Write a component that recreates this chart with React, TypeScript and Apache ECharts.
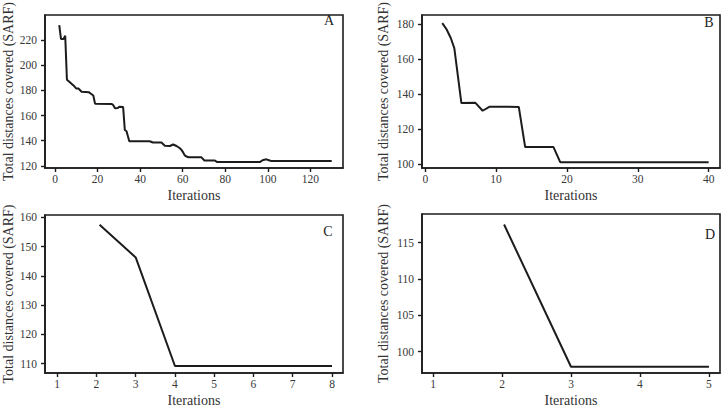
import React, { useEffect, useRef } from "react";
import * as echarts from "echarts";

// Convergence runs: [iteration, total distance covered (SARF)]
const runA: [number, number][] = [
  [2, 232], [2.8, 221], [4, 221], [4.8, 223.5], [5.6, 188.5], [7, 186.5], [8, 185], [9, 183.5],
  [10, 181.5], [11, 181.5], [12.5, 179], [16, 178.5], [17.2, 177], [18, 176], [18.8, 169.5],
  [26.5, 169.3], [27.3, 168.5], [28.2, 165.8], [29.5, 166], [30.2, 167], [32, 166.8], [32.8, 148.5],
  [33.6, 147.5], [34.9, 139.6], [44.5, 139.6], [46, 138.6], [50, 138.6], [51.6, 136], [54, 135.8],
  [55.5, 137], [57.1, 135.8], [58.7, 134], [59.5, 132.5], [60.2, 130.7], [61, 128.3], [61.8, 127.4],
  [62.8, 126.8], [68.8, 126.8], [70.2, 124.3], [75.1, 124.3], [76.2, 123], [96.2, 123],
  [97.5, 124.5], [99.3, 125.2], [100.5, 124.5], [101.7, 123.8], [130, 123.8],
];
const runB: [number, number][] = [
  [2.4, 180.5], [3, 177], [3.6, 172], [4.1, 166.3], [5.1, 135], [7.05, 135.2], [8.1, 130.6],
  [9.1, 132.9], [13.2, 132.8], [14.1, 109.9], [18.1, 109.9], [19.05, 101.3], [40, 101.3],
];
const runC: [number, number][] = [
  [2.08, 157.5], [3, 146.3], [4, 109.2], [8, 109.2],
];
const runD: [number, number][] = [
  [2.03, 117.5], [3, 97.9], [5, 97.9],
];

// Tick values for each panel
const xTicksA = [0, 20, 40, 60, 80, 100, 120];
const yTicksA = [120, 140, 160, 180, 200, 220];
const xTicksB = [0, 10, 20, 30, 40];
const yTicksB = [100, 120, 140, 160, 180];
const xTicksC = [1, 2, 3, 4, 5, 6, 7, 8];
const yTicksC = [110, 120, 130, 140, 150, 160];
const xTicksD = [1, 2, 3, 4, 5];
const yTicksD = [100, 105, 110, 115];

const panelLetters = ["A", "B", "C", "D"];

const FONT = "Liberation Serif, Times New Roman, serif";
const INK = "#1c1c1c";

type Panel = {
  grid: { left: number; top: number; width: number; height: number };
  xRange: [number, number];
  yRange: [number, number];
  xTicks: number[];
  yTicks: number[];
  data: [number, number][];
  yNameGap: number;
  letterPos: [number, number];
};

const panels: Panel[] = [
  {
    grid: { left: 45, top: 8, width: 298, height: 160 },
    xRange: [-4.7, 135.3],
    yRange: [118.3, 240],
    xTicks: xTicksA,
    yTicks: yTicksA,
    data: runA,
    yNameGap: 30,
    letterPos: [329, 20],
  },
  {
    grid: { left: 422, top: 9, width: 298, height: 159 },
    xRange: [-0.46, 41.6],
    yRange: [98, 185.1],
    xTicks: xTicksB,
    yTicks: yTicksB,
    data: runB,
    yNameGap: 32,
    letterPos: [709, 22],
  },
  {
    grid: { left: 45, top: 215, width: 298, height: 161 },
    xRange: [0.69, 8.28],
    yRange: [106.8, 160.8],
    xTicks: xTicksC,
    yTicks: yTicksC,
    data: runC,
    yNameGap: 30,
    letterPos: [328, 231],
  },
  {
    grid: { left: 422, top: 214, width: 298, height: 161 },
    xRange: [0.84, 5.16],
    yRange: [97.04, 118.95],
    xTicks: xTicksD,
    yTicks: yTicksD,
    data: runD,
    yNameGap: 32,
    letterPos: [710, 234],
  },
];

export default function App() {
  const ref = useRef<HTMLDivElement>(null);

  useEffect(() => {
    if (!ref.current) return;
    const chart = echarts.init(ref.current, undefined, { renderer: "svg" });

    const axisLine = { show: true, onZero: false, lineStyle: { color: INK, width: 1.6 } };
    const axisTick = (values: number[]) => ({
      show: true,
      length: 4,
      inside: false,
      lineStyle: { color: INK, width: 1.4 },
      customValues: values,
    });
    const axisLabel = (values: number[], margin: number) => ({
      show: true,
      customValues: values,
      margin,
      fontFamily: FONT,
      fontSize: 11.5,
      color: "#383838",
    });

    chart.setOption({
      animation: false,
      backgroundColor: "#fff",
      grid: panels.map((p) => ({
        ...p.grid,
        show: true,
        borderColor: INK,
        borderWidth: 1.6,
        backgroundColor: "transparent",
        containLabel: false,
      })),
      xAxis: panels.map((p, i) => ({
        type: "value",
        gridIndex: i,
        min: p.xRange[0],
        max: p.xRange[1],
        name: "Iterations",
        nameLocation: "middle",
        nameGap: 20,
        nameTextStyle: { fontFamily: FONT, fontSize: 14, color: "#333" },
        axisLine,
        axisTick: axisTick(p.xTicks),
        axisLabel: axisLabel(p.xTicks, 5),
        splitLine: { show: false },
      })),
      yAxis: panels.map((p, i) => ({
        type: "value",
        gridIndex: i,
        min: p.yRange[0],
        max: p.yRange[1],
        name: "Total distances covered (SARF)",
        nameLocation: "middle",
        nameGap: p.yNameGap,
        nameTextStyle: { fontFamily: FONT, fontSize: 14, color: "#333" },
        axisLine,
        axisTick: axisTick(p.yTicks),
        axisLabel: axisLabel(p.yTicks, 8),
        splitLine: { show: false },
      })),
      series: panels.map((p, i) => ({
        type: "line",
        xAxisIndex: i,
        yAxisIndex: i,
        data: p.data,
        showSymbol: false,
        symbol: "none",
        lineStyle: { color: INK, width: 2 },
        clip: true,
      })),
      graphic: panels.map((p, i) => ({
        type: "text",
        x: p.letterPos[0],
        y: p.letterPos[1],
        style: {
          text: panelLetters[i],
          fontFamily: FONT,
          fontSize: 14,
          fill: "#222",
          align: "center",
          verticalAlign: "middle",
        },
      })),
    });

    return () => chart.dispose();
  }, []);

  return (
    <div
      ref={ref}
      style={{ position: "absolute", left: 0, top: 0, width: 724, height: 408 }}
    />
  );
}
